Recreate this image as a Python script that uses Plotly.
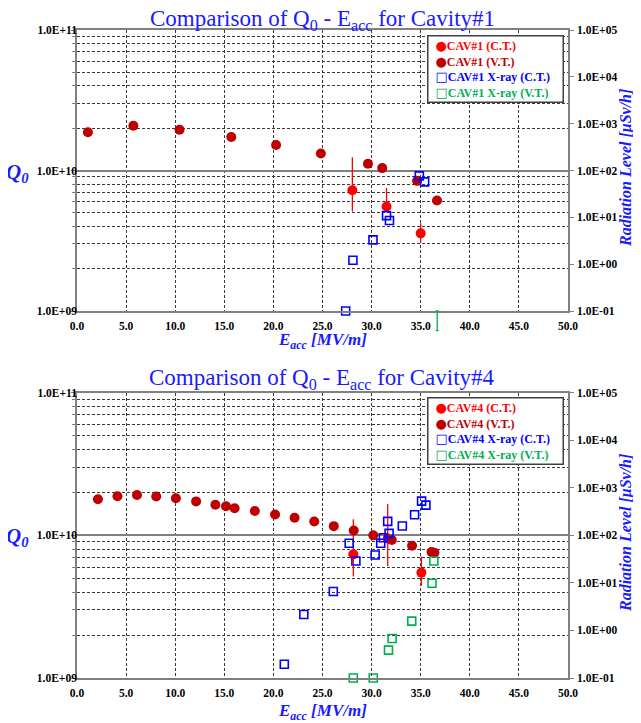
import plotly.graph_objects as go
from plotly.subplots import make_subplots

# ---------------- data: Cavity #1 ----------------
c1_ct_x = [28.04, 31.52, 35.0]
c1_ct_q = [7.24e9, 5.54e9, 3.57e9]
c1_ct_err_plus = [5.2e9, 1.96e9, 0.65e9]
c1_ct_err_minus = [2.14e9, 0.3e9, 0.5e9]

c1_vt_x = [1.11, 5.74, 10.44, 15.71, 20.27, 24.83, 29.63, 31.08, 34.63, 36.66]
c1_vt_q = [1.87e10, 2.08e10, 1.95e10, 1.73e10, 1.52e10, 1.32e10, 1.116e10, 1.04e10, 8.44e9, 6.11e9]

c1_xct_x = [34.86, 35.4, 31.52, 31.82, 30.14, 28.1, 27.36]
c1_xct_r = [76.9, 57.3, 10.9, 8.53, 3.30, 1.21, 0.1]

c1_xvt_x = [36.68]
c1_xvt_r = [0.1]
c1_xvt_err_minus = [0.062]

# ---------------- data: Cavity #4 ----------------
c4_ct_x = [28.14, 31.64, 35.07]
c4_ct_q = [7.36e9, 9.5e9, 5.48e9]
c4_ct_err_plus = [5.59e9, 7.1e9, 1.62e9]
c4_ct_err_minus = [2.22e9, 3.4e9, 1.04e9]

c4_vt_x = [2.13, 4.12, 6.11, 8.07, 10.07, 12.13, 14.09, 15.17, 16.05, 18.11,
           20.17, 22.16, 24.16, 26.15, 28.18, 30.17, 32.06, 34.12, 36.1, 36.4]
c4_vt_q = [1.79e10, 1.88e10, 1.92e10, 1.87e10, 1.82e10, 1.73e10, 1.64e10, 1.60e10, 1.55e10, 1.48e10,
           1.40e10, 1.33e10, 1.25e10, 1.16e10, 1.08e10, 1.00e10, 9.27e9, 8.46e9, 7.65e9, 7.55e9]

c4_xct_x = [21.11, 23.1, 26.1, 27.72, 28.4, 30.36, 30.93, 31.2, 31.78, 31.64, 33.13, 34.38, 35.09, 35.53]
c4_xct_r = [0.194, 2.17, 6.58, 68, 28.8, 38.5, 68, 89, 110, 197, 157, 271, 525, 433]

c4_xvt_x = [28.14, 30.17, 31.72, 32.09, 34.09, 36.15, 36.34]
c4_xvt_r = [0.1, 0.1, 0.386, 0.679, 1.57, 9.84, 28.8]

# ticks / labels
x_ticks = [0, 5, 10, 15, 20, 25, 30, 35, 40, 45, 50]
q_ticks = [1e9, 1e10, 1e11]
q_labels = ["1.0E+09", "1.0E+10", "1.0E+11"]
r_ticks = [0.1, 1, 10, 100, 1e3, 1e4, 1e5]
r_labels = ["1.0E-01", "1.0E+00", "1.0E+01", "1.0E+02", "1.0E+03", "1.0E+04", "1.0E+05"]
legend_names = ["(C.T.)", "(V.T.)", "X-ray (C.T.)", "X-ray (V.T.)"]

RED = "#ff0000"
DRED = "#c00000"
BLUE = "#0000ff"
GREEN = "#00b050"
TBLUE = "#1a1aff"
SERIF = "Liberation Serif"

fig = make_subplots(rows=2, cols=1, specs=[[{"secondary_y": True}], [{"secondary_y": True}]])


def add_set(row, ct_x, ct_q, ep, em, vt_x, vt_q, xct_x, xct_r, xvt_x, xvt_r):
    fig.add_trace(go.Scatter(
        x=ct_x, y=ct_q, mode="markers", showlegend=False,
        marker=dict(symbol="circle", size=10, color=RED),
        error_y=dict(type="data", array=ep, arrayminus=em, color=RED, thickness=1.3, width=0),
        cliponaxis=False), row=row, col=1, secondary_y=False)
    fig.add_trace(go.Scatter(
        x=vt_x, y=vt_q, mode="markers", showlegend=False,
        marker=dict(symbol="circle", size=10, color=DRED),
        cliponaxis=False), row=row, col=1, secondary_y=False)
    fig.add_trace(go.Scatter(
        x=xct_x, y=xct_r, mode="markers", showlegend=False,
        marker=dict(symbol="square-open", size=8, color=BLUE, line=dict(width=1.6)),
        cliponaxis=False), row=row, col=1, secondary_y=True)
    if xvt_x is not None:
        fig.add_trace(go.Scatter(
            x=xvt_x, y=xvt_r, mode="markers", showlegend=False,
            marker=dict(symbol="square-open", size=8, color=GREEN, line=dict(width=1.6)),
            cliponaxis=False), row=row, col=1, secondary_y=True)


add_set(1, c1_ct_x, c1_ct_q, c1_ct_err_plus, c1_ct_err_minus, c1_vt_x, c1_vt_q,
        c1_xct_x, c1_xct_r, None, None)
add_set(2, c4_ct_x, c4_ct_q, c4_ct_err_plus, c4_ct_err_minus, c4_vt_x, c4_vt_q,
        c4_xct_x, c4_xct_r, c4_xvt_x, c4_xvt_r)

# geometry: page has an 8px body margin, so work in screen pixels and shift
OFF = 8
SW, SH = 641, 723
W, H = SW - OFF, SH - OFF
L = 77 - OFF
T = 30 - OFF
B = SH - 678
R = SW - 568
PW, PH = W - L - R, H - T - B


def px(x):
    return (x - OFF - L) / PW


def py(y):
    return (H - B - (y - OFF)) / PH


TOP_Y0, TOP_Y1 = 311, 30
top_dom = [py(TOP_Y0), 1.0]
bot_dom = [0.0, py(392.7)]

# Cavity#1 X-ray (V.T.): value at the axis floor with its bar hanging below the frame;
# drawn on a hidden twin axis of the same scale whose frame reaches a little lower
EXT_Y0 = 335
dec_px = (TOP_Y0 - TOP_Y1) / 6.0
ext_lo = -1 - (EXT_Y0 - TOP_Y0) / dec_px
fig.add_trace(go.Scatter(
    x=c1_xvt_x, y=c1_xvt_r, mode="markers", showlegend=False, xaxis="x3", yaxis="y5",
    marker=dict(symbol="square-open", size=8, color=GREEN, opacity=0),
    error_y=dict(type="data", array=[0] * len(c1_xvt_err_minus), arrayminus=c1_xvt_err_minus,
                 color=GREEN, thickness=1.3, width=1.5),
    cliponaxis=False))

tickfont = dict(family=SERIF, size=11.5, color="black", weight="bold")
GRID = "#3a3a3a"
minor_q = [m * 10 ** e for e in (9, 10) for m in range(2, 10)]

for xa in ("xaxis", "xaxis2"):
    fig.layout[xa].update(
        range=[0, 50], tickvals=x_ticks, tickformat=".1f", tickfont=tickfont,
        showline=True, linecolor="#808080", linewidth=1.5, mirror=True,
        showgrid=True, gridcolor=GRID, griddash="3px,2px", gridwidth=1,
        ticks="", zeroline=False, ticklabelstandoff=3, domain=[0, 1])

for ya, dom in (("yaxis", top_dom), ("yaxis3", bot_dom)):
    fig.layout[ya].update(
        type="log", range=[9, 11], domain=dom, tickvals=q_ticks, ticktext=q_labels,
        tickfont=tickfont, showline=True, linecolor="#808080", linewidth=1.5,
        showgrid=True, gridcolor="#808080", gridwidth=2,
        ticks="outside", ticklen=4, tickcolor="#808080", ticklabelstandoff=-8,
        minor=dict(tickvals=minor_q, showgrid=True, gridcolor=GRID, griddash="3px,2px",
                   gridwidth=1, ticks="outside", ticklen=3, tickcolor="#808080"),
        zeroline=False)

for ya in ("yaxis2", "yaxis4"):
    fig.layout[ya].update(
        type="log", range=[-1, 5], tickvals=r_ticks, ticktext=r_labels,
        tickfont=tickfont, showline=True, linecolor="#808080", linewidth=1.5,
        showgrid=False, ticks="outside", ticklen=4, tickcolor="#808080",
        ticklabelstandoff=1, zeroline=False)

fig.update_layout(
    xaxis3=dict(range=[0, 50], domain=[0, 1], anchor="y5", visible=False),
    yaxis5=dict(type="log", range=[ext_lo, 5], domain=[py(EXT_Y0), 1.0], anchor="x3", visible=False),
)

fig.update_layout(
    width=W, height=H, margin=dict(l=L, r=R, t=T, b=B),
    paper_bgcolor="white", plot_bgcolor="rgba(0,0,0,0)", showlegend=False,
)


def legend_text(cav):
    syms = ["●", "●", "□", "□"]
    cols = [RED, DRED, BLUE, GREEN]
    lines = []
    for s, c, n in zip(syms, cols, legend_names):
        lines.append("&nbsp;&nbsp;<span style='color:%s'><span style='font-size:13px;font-family:DejaVu Sans'>%s</span>"
                     "CAV#%s %s</span>" % (c, s, cav, n))
    return "<b>" + "<br>".join(lines) + "</b>"


ann = []
for title, ty in (("Comparison of Q<sub>0</sub> - E<sub>acc</sub> for Cavity#1", 20),
                  ("Comparison of Q<sub>0</sub> - E<sub>acc</sub> for Cavity#4", 379)):
    ann.append(dict(text=title, x=px(322), y=py(ty), xref="paper", yref="paper",
                    showarrow=False, xanchor="center", yanchor="middle",
                    font=dict(family=SERIF, size=23, color=TBLUE)))
for ey in (341, 712):
    ann.append(dict(text="<b><i>E<sub>acc</sub> [MV/m]</i></b>", x=px(322), y=py(ey),
                    xref="paper", yref="paper", showarrow=False, xanchor="center", yanchor="middle",
                    font=dict(family=SERIF, size=17, color=TBLUE)))
for qy in (173, 537):
    ann.append(dict(text="<b><i>Q<sub>0</sub></i></b>", x=px(31), y=py(qy),
                    xref="paper", yref="paper", showarrow=False, xanchor="right", yanchor="middle",
                    font=dict(family=SERIF, size=21, color=TBLUE)))
for ry in (168, 533):
    ann.append(dict(text="<b><i>Radiation Level [μSv/h]</i></b>", x=px(626), y=py(ry),
                    xref="paper", yref="paper", showarrow=False, xanchor="center", yanchor="middle",
                    textangle=-90, font=dict(family=SERIF, size=16, color=TBLUE)))
for cav, ly in (("1", 35), ("4", 397)):
    ann.append(dict(text=legend_text(cav), x=px(427), y=py(ly), xref="paper", yref="paper",
                    showarrow=False, xanchor="left", yanchor="top", align="left", valign="middle",
                    width=132, height=63, borderpad=1, bordercolor="#404040", borderwidth=1.5,
                    bgcolor="white", font=dict(family=SERIF, size=12)))
fig.update_layout(annotations=ann)

fig.write_html("out.html")
